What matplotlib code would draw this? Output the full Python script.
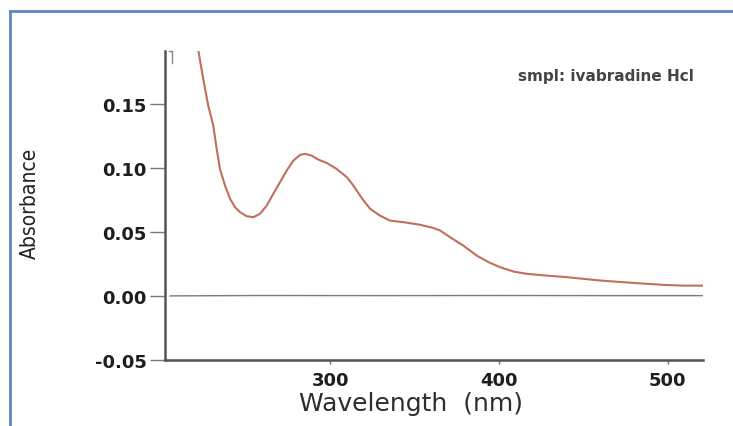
import matplotlib
matplotlib.use("Agg")
import matplotlib.pyplot as plt
from matplotlib.lines import Line2D

# spectrum
wavelength = [221.8, 224.7, 227.7, 230.6, 232.6, 234.6, 237.6, 240.6, 243.5, 246.5,
              250.5, 254.4, 258.3, 262.3, 266.2, 270.2, 274.2, 278.1, 282.1, 285.0,
              289.0, 292.9, 297.9, 303.8, 309.8, 313.7, 318.7, 323.6, 329.5, 335.4,
              343.3, 353.2, 361.1, 365.1, 371.0, 378.9, 386.9, 393.8, 400.7, 408.6,
              416.5, 428.4, 440.3, 460.0, 479.8, 497.6, 509.4, 521.3]
absorbance = [0.191, 0.169, 0.148, 0.133, 0.115, 0.099, 0.086, 0.0757, 0.0692, 0.0653,
              0.0621, 0.0614, 0.064, 0.0704, 0.0796, 0.0887, 0.0978, 0.1055, 0.110, 0.1108,
              0.1094, 0.1063, 0.1037, 0.099, 0.0926, 0.086, 0.0762, 0.0679, 0.0626, 0.0587,
              0.0575, 0.0555, 0.0530, 0.0510, 0.0458, 0.0392, 0.0314, 0.0263, 0.0224, 0.0190,
              0.0172, 0.0158, 0.0146, 0.0120, 0.0101, 0.0086, 0.0080, 0.0080]

# blank / baseline trace
base_wl = [205, 260, 330, 400, 460, 521]
base_abs = [0.0, 0.0003, 0.0002, 0.0003, 0.0002, 0.0002]

yticks = [-0.05, 0.00, 0.05, 0.10, 0.15]
xticks = [300, 400, 500]

plt.rcParams['axes.unicode_minus'] = False

W, H = 733, 427
fig = plt.figure(figsize=(W / 100, H / 100), dpi=100)
ax = fig.add_axes([165 / W, (H - 361) / H, 538 / W, 309 / H])

ax.plot(base_wl, base_abs, color='#7a7a7a', lw=1.0)
ax.plot(wavelength, absorbance, color='#bf6f5c', lw=1.5,
        solid_capstyle='round', solid_joinstyle='round')

ax.set_xlim(202, 521)
ax.set_ylim(-0.05, 0.191)
ax.set_xticks(xticks)
ax.set_yticks(yticks)
ax.set_yticklabels([f"{v:.2f}" for v in yticks])

for s in ['top', 'right']:
    ax.spines[s].set_visible(False)
for s in ['left', 'bottom']:
    ax.spines[s].set_color('#555555')
    ax.spines[s].set_linewidth(1.8)

ax.tick_params(axis='y', direction='out', length=11, width=1.0, color='#777777',
               pad=2, labelsize=13, labelcolor='#1e1e1e')
ax.tick_params(axis='x', direction='out', length=3, width=1.0, color='#777777',
               pad=5, labelsize=13, labelcolor='#1e1e1e')
for lab in ax.get_xticklabels() + ax.get_yticklabels():
    lab.set_fontweight('bold')

# little hook at the top of the axis
ax.add_line(Line2D([204.5, 206.2, 206.2], [0.191, 0.191, 0.182], color='#888888',
                   lw=1.0, clip_on=False))

fig.text(30 / W, 1 - 203 / H, 'Absorbance', rotation=90, ha='center', va='center',
         fontsize=15, family='DejaVu Sans', fontstretch='condensed', color='#222222')
fig.text(411 / W, 1 - 404 / H, 'Wavelength  (nm)', ha='center', va='center',
         fontsize=18, color='#2e2e2e')
fig.text(606 / W, 1 - 76 / H, 'smpl: ivabradine Hcl', ha='center', va='center',
         fontsize=11, fontweight='bold', color='#444444')

# blue frame of the screenshot
fig.add_artist(Line2D([10 / W, 10 / W], [0, 1 - 12 / H], color='#5a87c8', lw=2.0))
fig.add_artist(Line2D([10 / W, 1], [1 - 12 / H, 1 - 12 / H], color='#5a87c8', lw=2.0))

fig.savefig('out.png', dpi=100)
